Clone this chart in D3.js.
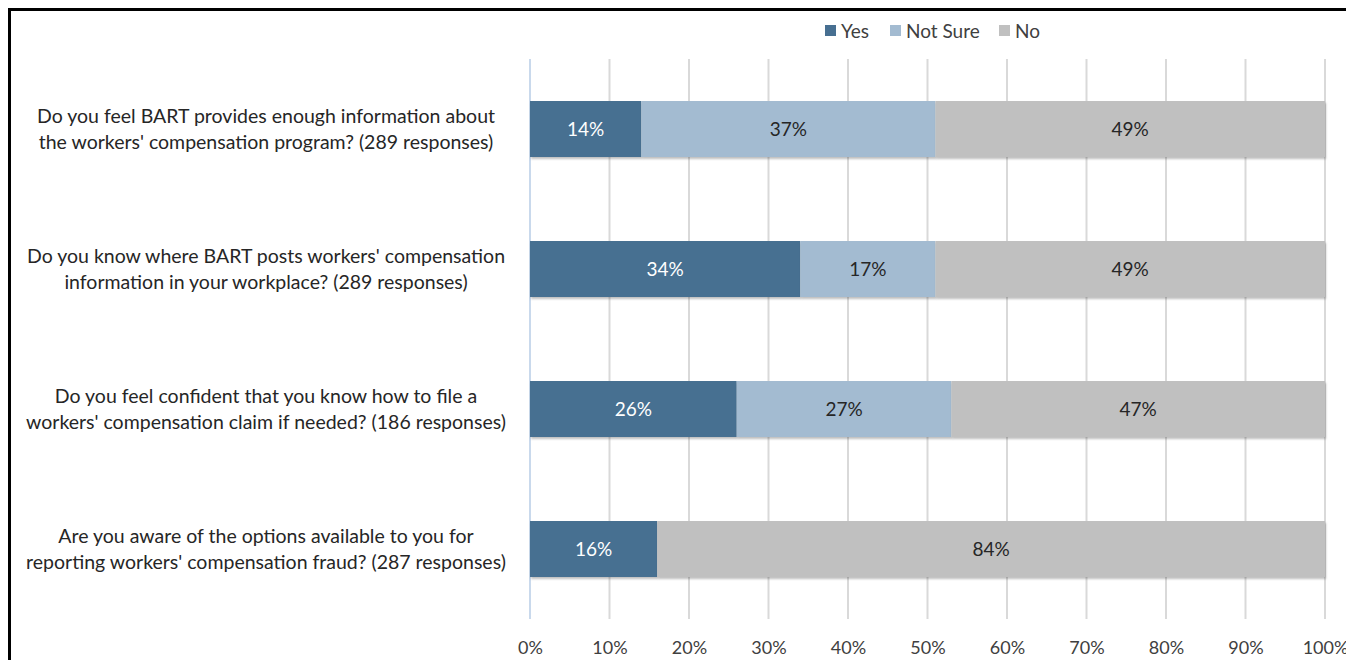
<!DOCTYPE html>
<html><head><meta charset="utf-8">
<script src="https://cdn.jsdelivr.net/npm/d3@7"></script>
<style>body{margin:0;background:#fff;} svg{display:block;} text{font-family:Lato,"Open Sans",sans-serif;}</style>
</head><body>
<svg id="chart" width="1346" height="660"></svg>
<script>
const questions = [
  ["Do you feel BART provides enough information about", "the workers' compensation program? (289 responses)"],
  ["Do you know where BART posts workers' compensation", "information in your workplace? (289 responses)"],
  ["Do you feel confident that you know how to file a", "workers' compensation claim if needed? (186 responses)"],
  ["Are you aware of the options available to you for", "reporting workers' compensation fraud? (287 responses)"]
];
const seriesNames = ["Yes", "Not Sure", "No"];
const yesValues = [14, 34, 26, 16];
const notSureValues = [37, 17, 27, 0];
const noValues = [49, 49, 47, 84];
const tickValues = [0,10,20,30,40,50,60,70,80,90,100];
const colors = ["#476f91", "#a3bbd1", "#c0c0c0"];
const labelColors = ["#ffffff", "#262626", "#262626"];

const svg = d3.select("#chart");
svg.append("path").attr("d","M9.5,661 V9.5 H1346").attr("fill","none").attr("stroke","#000").attr("stroke-width",3);

const x = d3.scaleLinear().domain([0,100]).range([530,1325]);
const y = d3.scaleBand().domain(d3.range(questions.length)).range([59,619]).paddingInner(0.6).paddingOuter(0.3);

svg.append("g").selectAll("line").data(tickValues.slice(1)).join("line")
  .attr("x1",d=>x(d)).attr("x2",d=>x(d)).attr("y1",59).attr("y2",619)
  .attr("stroke","#d9d9d9").attr("stroke-width",2);
svg.append("line").attr("x1",x(0)).attr("x2",x(0)).attr("y1",59).attr("y2",619)
  .attr("stroke","#c9d9ec").attr("stroke-width",2);

const axis = d3.axisBottom(x).tickValues(tickValues).tickFormat(d=>d+"%").tickSize(0);
const ag = svg.append("g").attr("transform","translate(0,638)").call(axis);
ag.select(".domain").remove();
ag.selectAll("text").attr("font-size",18).attr("fill","#404040").attr("font-family","Lato, sans-serif");

const stackData = questions.map((q,i)=>({i, Yes:yesValues[i], "Not Sure":notSureValues[i], No:noValues[i]}));
const stacked = d3.stack().keys(seriesNames)(stackData);

const defs = svg.append("defs");
const f = defs.append("filter").attr("id","sh").attr("x","-5%").attr("y","-20%").attr("width","110%").attr("height","150%");
f.append("feDropShadow").attr("dx",1).attr("dy",2).attr("stdDeviation",1.2).attr("flood-color","#000").attr("flood-opacity",0.25);

const gBars = svg.append("g");
stacked.forEach((s,si)=>{
  gBars.append("g").attr("fill",colors[si]).selectAll("rect").data(s.filter(d=>d[1]>d[0])).join("rect")
    .attr("x",d=>x(d[0])).attr("width",d=>x(d[1])-x(d[0]))
    .attr("y",d=>y(d.data.i)).attr("height",y.bandwidth())
    .attr("filter","url(#sh)");
});
stacked.forEach((s,si)=>{
  svg.append("g").selectAll("text").data(s.filter(d=>d[1]>d[0])).join("text")
    .attr("x",d=>x((d[0]+d[1])/2)).attr("y",d=>y(d.data.i)+y.bandwidth()/2)
    .attr("dy","0.35em").attr("text-anchor","middle").attr("font-size",19)
    .attr("fill",labelColors[si]).text(d=>(d[1]-d[0])+"%");
});

const lg = svg.append("g");
questions.forEach((q,i)=>{
  const cy = y(i)+y.bandwidth()/2;
  const t = lg.append("text").attr("text-anchor","middle").attr("font-size",19.5).attr("fill","#262626");
  t.append("tspan").attr("x",266).attr("y",cy-13).attr("dy","0.35em").text(q[0]);
  t.append("tspan").attr("x",266).attr("y",cy+13).attr("dy","0.35em").text(q[1]);
});

const legX = [825, 890, 999];
const leg = svg.append("g");
seriesNames.forEach((n,i)=>{
  leg.append("rect").attr("x",legX[i]).attr("y",25).attr("width",11).attr("height",11).attr("fill",colors[i]);
  leg.append("text").attr("x",legX[i]+16).attr("y",31).attr("dy","0.35em").attr("font-size",19).attr("fill","#404040").text(n);
});
</script>
</body></html>
